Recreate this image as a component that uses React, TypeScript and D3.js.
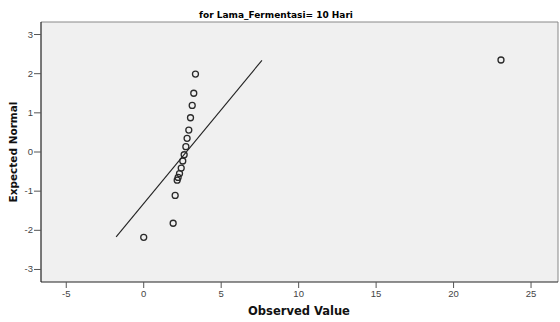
import React from "react";
import * as d3 from "d3";

const observed = [0.0, 1.9, 2.03, 2.16, 2.22, 2.31, 2.42, 2.52, 2.61, 2.72, 2.8, 2.91, 3.02, 3.13, 3.23, 3.34, 23.06];
const expected = [-2.18, -1.82, -1.11, -0.72, -0.65, -0.55, -0.41, -0.23, -0.07, 0.135, 0.35, 0.56, 0.875, 1.19, 1.5, 1.99, 2.35];

// reference line end points
const lineObs = [-1.78, 7.63];
const lineExp = [-2.17, 2.34];

const xTicks = [-5, 0, 5, 10, 15, 20, 25];
const yTicks = [-3, -2, -1, 0, 1, 2, 3];

const W = 560;
const H = 322;
const m = { top: 22, right: 2, bottom: 40, left: 41 };

const App: React.FC = () => {
  const x = d3.scaleLinear().domain([-6.63, 26.74]).range([m.left, W - m.right]);
  const y = d3.scaleLinear().domain([-3.32, 3.32]).range([H - m.bottom, m.top]);

  const line = d3
    .line<number>()
    .x((d) => x(lineObs[d]))
    .y((d) => y(lineExp[d]));

  const font = "Arial, 'Liberation Sans', sans-serif";
  const boldFont = "'DejaVu Sans', Verdana, sans-serif";

  return (
    <svg
      width={W}
      height={H}
      style={{ position: "absolute", left: 0, top: 0, background: "#fff" }}
      fontFamily={font}
    >
      <rect x={m.left} y={m.top} width={W - m.right - m.left} height={H - m.bottom - m.top} fill="#f0f0f0" />
      {/* frame: top/right light, left/bottom dark */}
      <line x1={m.left} x2={W - m.right} y1={m.top} y2={m.top} stroke="#888" strokeWidth={1} />
      <line x1={W - m.right} x2={W - m.right} y1={m.top} y2={H - m.bottom} stroke="#888" strokeWidth={1} />
      <line x1={m.left} x2={m.left} y1={m.top} y2={H - m.bottom} stroke="#222" strokeWidth={1.2} />
      <line x1={m.left} x2={W - m.right} y1={H - m.bottom} y2={H - m.bottom} stroke="#222" strokeWidth={1.2} />

      {xTicks.map((t) => (
        <g key={"x" + t}>
          <line x1={x(t)} x2={x(t)} y1={H - m.bottom} y2={H - m.bottom + 6} stroke="#555" />
          <text x={x(t)} y={H - m.bottom + 15} fontSize={9.5} fill="#444" textAnchor="middle">
            {t}
          </text>
        </g>
      ))}
      {yTicks.map((t) => (
        <g key={"y" + t}>
          <line x1={m.left - 7} x2={m.left} y1={y(t)} y2={y(t)} stroke="#555" />
          <text x={m.left - 8} y={y(t) + 3} fontSize={9.5} fill="#444" textAnchor="end">
            {t}
          </text>
        </g>
      ))}

      <path d={line([0, 1]) || ""} fill="none" stroke="#222" strokeWidth={1.1} />

      {observed.map((v, i) => (
        <circle key={i} cx={x(v)} cy={y(expected[i])} r={3} fill="none" stroke="#2a2a2a" strokeWidth={1.3} />
      ))}

      <text x={276} y={18} fontSize={9} fontFamily={boldFont} fontWeight="bold" textAnchor="middle" fill="#000">
        for Lama_Fermentasi= 10 Hari
      </text>
      <text x={299} y={315} fontSize={11.5} fontFamily={boldFont} fontWeight="bold" textAnchor="middle" fill="#111">
        Observed Value
      </text>
      <text
        transform={`translate(17,152) rotate(-90)`}
        fontSize={10.5}
        fontFamily={boldFont}
        fontWeight="bold"
        textAnchor="middle"
        fill="#111"
      >
        Expected Normal
      </text>
    </svg>
  );
};

export default App;
